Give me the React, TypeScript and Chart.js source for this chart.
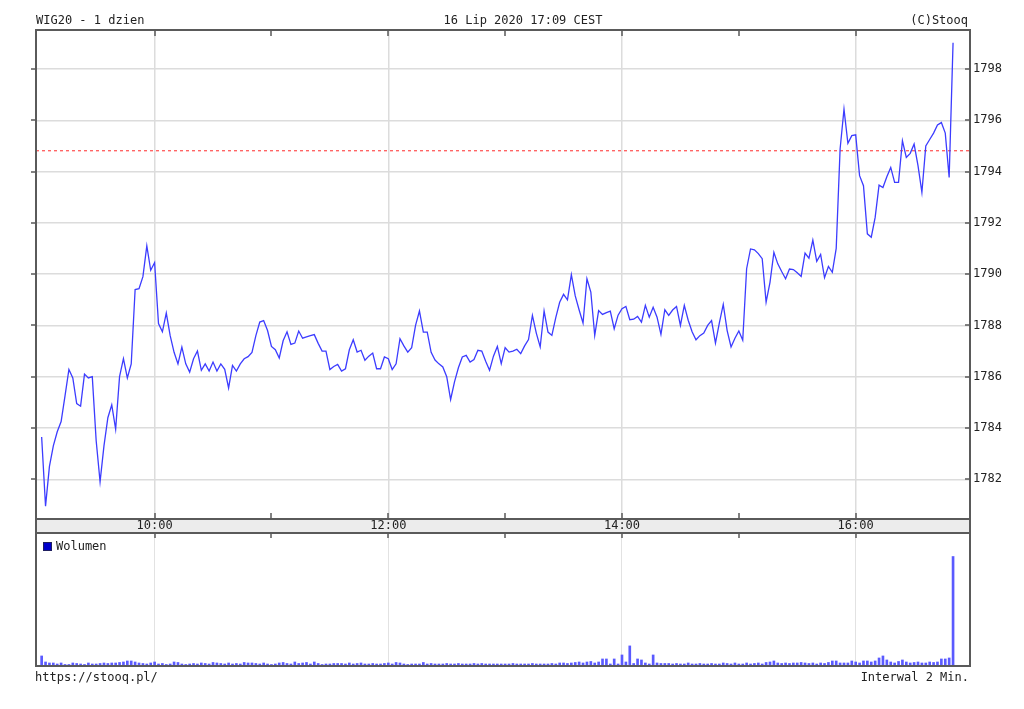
import React, { useEffect, useRef } from "react";
import { Chart, registerables } from "chart.js";
Chart.register(...registerables);

// ---------- data ----------
// minutes after 09:00, one point every 2 minutes (09:02 ... 16:50)
const FIRST_MIN = 2;
const STEP_MIN = 2;

const PRICE = [
  1783.65, 1780.95, 1782.5, 1783.3, 1783.85, 1784.25, 1785.25, 1786.28, 1785.95, 1784.95,
  1784.85, 1786.1, 1785.95, 1786.0, 1783.5, 1781.9, 1783.3, 1784.4, 1784.9, 1783.95,
  1786.0, 1786.7, 1785.95, 1786.5, 1789.4, 1789.43, 1789.9, 1791.1, 1790.15, 1790.45,
  1788.07, 1787.75, 1788.48, 1787.6, 1786.95, 1786.5, 1787.15, 1786.5, 1786.18, 1786.7,
  1787.0, 1786.25, 1786.5, 1786.22, 1786.57, 1786.22, 1786.5, 1786.29, 1785.56, 1786.44,
  1786.22, 1786.5, 1786.7, 1786.78, 1786.95, 1787.6, 1788.13, 1788.19, 1787.8, 1787.18,
  1787.05, 1786.73, 1787.4, 1787.75, 1787.26, 1787.31, 1787.78, 1787.5, 1787.55, 1787.6,
  1787.64, 1787.3, 1787.0, 1787.0, 1786.28, 1786.4, 1786.48, 1786.22, 1786.31, 1787.05,
  1787.44, 1786.96, 1787.03, 1786.64, 1786.8, 1786.92, 1786.31, 1786.31, 1786.77, 1786.7,
  1786.28, 1786.5, 1787.48, 1787.2, 1786.96, 1787.13, 1788.0, 1788.56, 1787.74, 1787.74,
  1786.95, 1786.65, 1786.5, 1786.38, 1786.0, 1785.11, 1785.8, 1786.35, 1786.77, 1786.83,
  1786.57, 1786.67, 1787.03, 1787.0, 1786.6, 1786.25, 1786.8, 1787.18, 1786.51, 1787.13,
  1786.96, 1787.0, 1787.07, 1786.9, 1787.2, 1787.45, 1788.39, 1787.7, 1787.16, 1788.56,
  1787.74, 1787.61, 1788.3, 1788.9, 1789.21, 1789.0, 1789.98, 1789.15, 1788.6, 1788.09,
  1789.82, 1789.3, 1787.61, 1788.58, 1788.43, 1788.5, 1788.56, 1787.87, 1788.4, 1788.65,
  1788.74, 1788.22, 1788.24, 1788.35, 1788.13, 1788.78, 1788.32, 1788.71, 1788.32, 1787.65,
  1788.61, 1788.39, 1788.6, 1788.74, 1788.0, 1788.78, 1788.2, 1787.75, 1787.44, 1787.6,
  1787.7, 1788.0, 1788.19, 1787.31, 1788.1, 1788.82, 1787.8, 1787.16, 1787.5, 1787.78,
  1787.42, 1790.21, 1790.98, 1790.95, 1790.8, 1790.6, 1788.91, 1789.68, 1790.85, 1790.4,
  1790.1, 1789.82, 1790.2, 1790.18, 1790.05, 1789.91, 1790.82, 1790.62, 1791.33, 1790.5,
  1790.77, 1789.86, 1790.3, 1790.07, 1791.0, 1794.88, 1796.43, 1795.1, 1795.4, 1795.43,
  1793.84, 1793.45, 1791.57, 1791.44, 1792.21, 1793.47, 1793.38, 1793.8, 1794.16, 1793.58,
  1793.58, 1795.2, 1794.55, 1794.71, 1795.07, 1794.23, 1793.19, 1795.0, 1795.25, 1795.5,
  1795.82, 1795.91, 1795.5, 1793.77, 1799.02,
];

const VOLUME = [
  100, 40, 30, 30, 20, 30, 15, 15, 30, 25,
  20, 15, 30, 20, 20, 25, 30, 25, 30, 30,
  35, 40, 50, 50, 40, 30, 25, 20, 30, 40,
  20, 25, 15, 20, 40, 35, 20, 15, 20, 25,
  20, 30, 25, 20, 35, 30, 25, 20, 30, 20,
  25, 20, 35, 30, 30, 25, 20, 30, 20, 15,
  20, 30, 35, 25, 20, 40, 25, 30, 35, 20,
  40, 25, 15, 20, 20, 25, 25, 25, 20, 30,
  20, 25, 30, 20, 20, 25, 20, 20, 25, 30,
  20, 35, 30, 20, 15, 20, 20, 20, 35, 20,
  25, 20, 20, 20, 25, 20, 20, 25, 20, 20,
  20, 25, 20, 25, 20, 20, 20, 20, 20, 20,
  20, 25, 20, 20, 20, 20, 25, 20, 20, 20,
  20, 25, 20, 30, 30, 25, 30, 35, 40, 30,
  40, 45, 30, 40, 70, 70, 20, 70, 20, 110,
  40, 200, 25, 70, 60, 30, 20, 110, 30, 25,
  25, 25, 20, 25, 20, 20, 30, 20, 20, 25,
  20, 20, 25, 20, 20, 30, 25, 20, 30, 20,
  20, 30, 20, 25, 30, 20, 35, 40, 50, 30,
  25, 30, 25, 30, 30, 35, 30, 25, 30, 20,
  30, 25, 35, 50, 50, 30, 30, 30, 50, 40,
  30, 50, 50, 40, 50, 80, 100, 60, 40, 30,
  45, 60, 40, 30, 35, 40, 30, 30, 40, 35,
  40, 70, 70, 80, 1090,
];

const PREV_CLOSE = 1794.81;
const Y_TICKS = [1782, 1784, 1786, 1788, 1790, 1792, 1794, 1796, 1798];
const HOURS = [10, 11, 12, 13, 14, 15, 16];
const LABEL_HOURS = [10, 12, 14, 16];
const X_MIN = -0.9;
const X_MAX = 478.7;
const Y_MIN = 1780.45;
const Y_MAX = 1799.52;
const VOL_MAX = 1324;

const TITLE_LEFT = "WIG20 - 1 dzien";
const TITLE_CENTER = "16 Lip 2020 17:09 CEST";
const TITLE_RIGHT = "(C)Stooq";
const FOOT_LEFT = "https://stooq.pl/";
const FOOT_RIGHT = "Interwal 2 Min.";
const VOL_LABEL = "Wolumen";

// ---------- styles ----------
const FONT = '"DejaVu Sans Mono", "Liberation Mono", monospace';
const TEXT = "#222";
const FRAME = "#5a5a5a";
const GRID = "#dcdcdc";
const BAND_FILL = "#ececec";
const LINE_BLUE = "#3c3cff";
const BAR_BLUE = "#5a5aff";
const BAND_H = 14;

const hourMin = (h: number) => (h - 9) * 60;
const isLabelHour = (v: number) => LABEL_HOURS.includes(Math.round(v / 60) + 9);

const pricePoints = PRICE.map((v, i) => ({ x: FIRST_MIN + i * STEP_MIN, y: v }));
const volPoints = VOLUME.map((v, i) => ({ x: FIRST_MIN + i * STEP_MIN, y: v }));
const closePoints = [
  { x: X_MIN, y: PREV_CLOSE },
  { x: X_MAX, y: PREV_CLOSE },
];

const priceDecor = {
  id: "priceDecor",
  beforeDraw(chart: any) {
    const { ctx, chartArea: a } = chart;
    ctx.save();
    ctx.fillStyle = BAND_FILL;
    ctx.fillRect(a.left, a.bottom, a.right - a.left, BAND_H);
    ctx.restore();
  },
  afterDraw(chart: any) {
    const { ctx, chartArea: a, scales } = chart;
    const xs = scales.x;
    const ys = scales.y;
    ctx.save();
    ctx.strokeStyle = FRAME;
    ctx.lineWidth = 2;
    ctx.strokeRect(a.left, a.top, a.right - a.left, a.bottom - a.top);
    ctx.strokeRect(a.left, a.bottom, a.right - a.left, BAND_H);
    ctx.lineWidth = 1.5;
    ctx.beginPath();
    HOURS.forEach((h) => {
      const px = Math.round(xs.getPixelForValue(hourMin(h)));
      ctx.moveTo(px, a.top);
      ctx.lineTo(px, a.top + 6);
      ctx.moveTo(px, a.bottom - 6);
      ctx.lineTo(px, a.bottom);
    });
    Y_TICKS.forEach((v) => {
      const py = Math.round(ys.getPixelForValue(v));
      ctx.moveTo(a.right - 5, py);
      ctx.lineTo(a.right, py);
      ctx.moveTo(a.left - 5, py);
      ctx.lineTo(a.left, py);
    });
    ctx.stroke();
    ctx.fillStyle = TEXT;
    ctx.font = `12px ${FONT}`;
    ctx.textBaseline = "alphabetic";
    ctx.textAlign = "left";
    ctx.fillText(TITLE_LEFT, 36, 24);
    ctx.textAlign = "center";
    ctx.fillText(TITLE_CENTER, 523, 24);
    ctx.textAlign = "right";
    ctx.fillText(TITLE_RIGHT, 968, 24);
    ctx.restore();
  },
};

const volDecor = {
  id: "volDecor",
  afterDraw(chart: any) {
    const { ctx, chartArea: a, scales } = chart;
    const xs = scales.x;
    ctx.save();
    ctx.strokeStyle = FRAME;
    ctx.lineWidth = 2;
    ctx.strokeRect(a.left, a.top, a.right - a.left, a.bottom - a.top);
    ctx.lineWidth = 1.5;
    ctx.beginPath();
    HOURS.forEach((h) => {
      const px = Math.round(xs.getPixelForValue(hourMin(h)));
      ctx.moveTo(px, a.top);
      ctx.lineTo(px, a.top + 5);
    });
    ctx.stroke();
    // legend
    ctx.fillStyle = "#0000cc";
    ctx.fillRect(a.left + 7.5, a.top + 9.5, 8, 8);
    ctx.strokeStyle = "#202060";
    ctx.lineWidth = 1;
    ctx.strokeRect(a.left + 7.5, a.top + 9.5, 8, 8);
    ctx.fillStyle = TEXT;
    ctx.font = `12px ${FONT}`;
    ctx.textBaseline = "alphabetic";
    ctx.textAlign = "left";
    ctx.fillText(VOL_LABEL, a.left + 20, a.top + 17);
    ctx.fillText(FOOT_LEFT, 35, 681);
    ctx.textAlign = "right";
    ctx.fillText(FOOT_RIGHT, 969, 681);
    ctx.restore();
  },
};

export default function App() {
  const priceRef = useRef<HTMLCanvasElement>(null);
  const volRef = useRef<HTMLCanvasElement>(null);

  useEffect(() => {
    Chart.defaults.font.family = FONT;
    const c1 = new Chart(priceRef.current as HTMLCanvasElement, {
      type: "line",
      data: {
        datasets: [
          {
            data: pricePoints,
            borderColor: LINE_BLUE,
            borderWidth: 1.3,
            pointRadius: 0,
            tension: 0,
            fill: false,
          },
          {
            data: closePoints,
            borderColor: "#ff2a2a",
            borderWidth: 1,
            borderDash: [3, 3],
            pointRadius: 0,
            fill: false,
          },
        ],
      },
      options: {
        animation: false,
        responsive: false,
        maintainAspectRatio: false,
        devicePixelRatio: 1,
        events: [],
        layout: { padding: { left: 36, top: 30, right: 0, bottom: 0 } },
        plugins: { legend: { display: false }, tooltip: { enabled: false } },
        scales: {
          x: {
            type: "linear",
            min: X_MIN,
            max: X_MAX,
            position: "bottom",
            afterBuildTicks: (s: any) => {
              s.ticks = HOURS.map((h) => ({ value: hourMin(h) }));
            },
            afterFit: (s: any) => {
              s.height = 709 - 519;
            },
            border: { display: false },
            grid: {
              drawTicks: false,
              lineWidth: 1.5,
              color: (c: any) => (c.tick && isLabelHour(c.tick.value) ? GRID : "rgba(0,0,0,0)"),
            },
            ticks: {
              autoSkip: false,
              maxRotation: 0,
              padding: 0,
              color: TEXT,
              font: { family: FONT, size: 12 },
              callback: (v: any) => {
                const h = Math.round(Number(v) / 60) + 9;
                return LABEL_HOURS.includes(h) ? `${h}:00` : "";
              },
            },
          },
          y: {
            type: "linear",
            position: "right",
            min: Y_MIN,
            max: Y_MAX,
            afterBuildTicks: (s: any) => {
              s.ticks = Y_TICKS.map((v) => ({ value: v }));
            },
            afterFit: (s: any) => {
              s.width = 54;
            },
            border: { display: false },
            grid: { drawTicks: false, lineWidth: 1.5, color: GRID },
            ticks: {
              padding: 3,
              color: TEXT,
              font: { family: FONT, size: 12 },
              callback: (v: any) => String(v),
            },
          },
        },
      } as any,
      plugins: [priceDecor],
    });

    const c2 = new Chart(volRef.current as HTMLCanvasElement, {
      type: "bar",
      data: {
        datasets: [
          {
            data: volPoints,
            backgroundColor: BAR_BLUE,
            borderWidth: 0,
            barThickness: 2,
          },
        ],
      },
      options: {
        animation: false,
        responsive: false,
        maintainAspectRatio: false,
        devicePixelRatio: 1,
        events: [],
        layout: { padding: { left: 36, top: 533, right: 54, bottom: 0 } },
        plugins: { legend: { display: false }, tooltip: { enabled: false } },
        scales: {
          x: {
            type: "linear",
            min: X_MIN,
            max: X_MAX,
            offset: false,
            position: "bottom",
            afterBuildTicks: (s: any) => {
              s.ticks = HOURS.map((h) => ({ value: hourMin(h) }));
            },
            afterFit: (s: any) => {
              s.height = 709 - 666;
            },
            border: { display: false },
            grid: {
              offset: false,
              drawTicks: false,
              lineWidth: 1,
              color: (c: any) => (c.tick && isLabelHour(c.tick.value) ? "#e2e2e2" : "rgba(0,0,0,0)"),
            },
            ticks: { display: false },
          },
          y: {
            display: false,
            min: 0,
            max: VOL_MAX,
          },
        },
      } as any,
      plugins: [volDecor],
    });

    return () => {
      c1.destroy();
      c2.destroy();
    };
  }, []);

  return (
    <div style={{ position: "absolute", left: 0, top: 0, width: 1024, height: 709, background: "#fff" }}>
      <canvas ref={priceRef} width={1024} height={709} style={{ position: "absolute", left: 0, top: 0, width: 1024, height: 709 }} />
      <canvas ref={volRef} width={1024} height={709} style={{ position: "absolute", left: 0, top: 0, width: 1024, height: 709 }} />
    </div>
  );
}
